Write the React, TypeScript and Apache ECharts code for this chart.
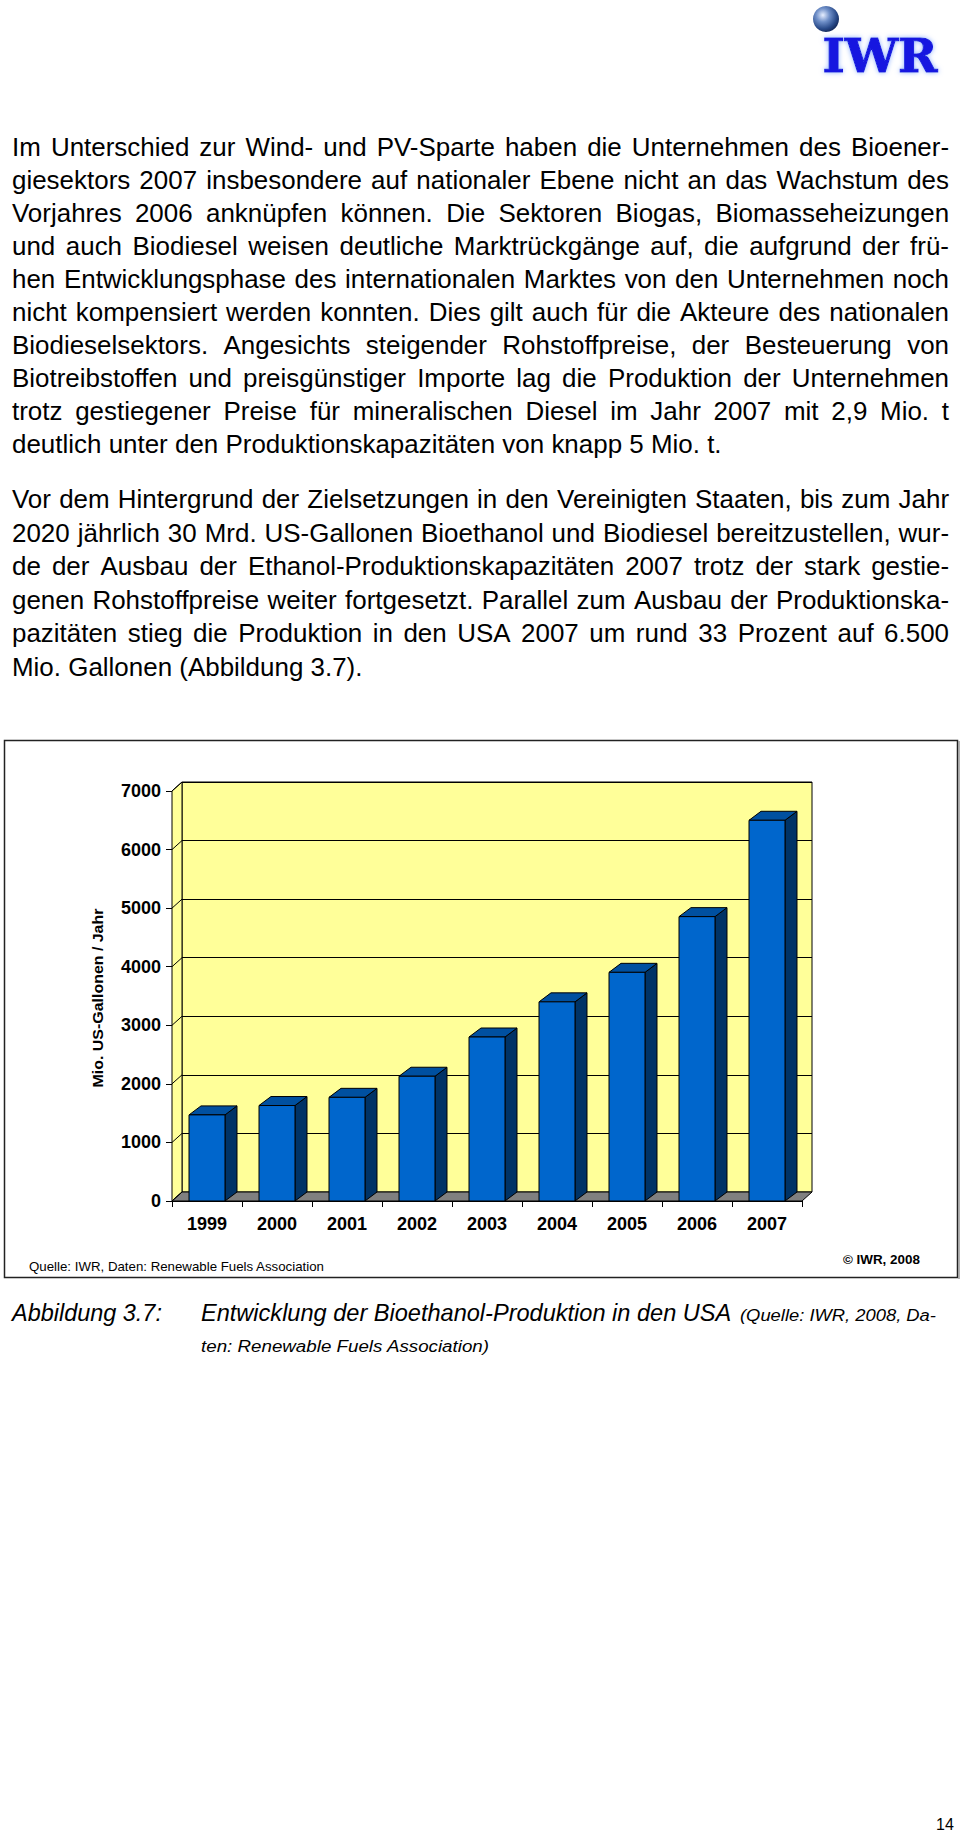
import React, { useEffect, useRef } from "react";
import * as echarts from "echarts";

// ---------- data ----------
const years = ["1999", "2000", "2001", "2002", "2003", "2004", "2005", "2006", "2007"];
const production = [1470, 1630, 1770, 2130, 2800, 3400, 3904, 4855, 6500];
const yTicks = [0, 1000, 2000, 3000, 4000, 5000, 6000, 7000];
const yMax = 7000;
const yInterval = 1000;

const paragraph1 = [
  "Im Unterschied zur Wind- und PV-Sparte haben die Unternehmen des Bioener-",
  "giesektors 2007 insbesondere auf nationaler Ebene nicht an das Wachstum des",
  "Vorjahres 2006 anknüpfen können. Die Sektoren Biogas, Biomasseheizungen",
  "und auch Biodiesel weisen deutliche Marktrückgänge auf, die aufgrund der frü-",
  "hen Entwicklungsphase des internationalen Marktes von den Unternehmen noch",
  "nicht kompensiert werden konnten. Dies gilt auch für die Akteure des nationalen",
  "Biodieselsektors. Angesichts steigender Rohstoffpreise, der Besteuerung von",
  "Biotreibstoffen und preisgünstiger Importe lag die Produktion der Unternehmen",
  "trotz gestiegener Preise für mineralischen Diesel im Jahr 2007 mit 2,9 Mio. t",
  "deutlich unter den Produktionskapazitäten von knapp 5 Mio. t.",
];
const paragraph2 = [
  "Vor dem Hintergrund der Zielsetzungen in den Vereinigten Staaten, bis zum Jahr",
  "2020 jährlich 30 Mrd. US-Gallonen Bioethanol und Biodiesel bereitzustellen, wur-",
  "de der Ausbau der Ethanol-Produktionskapazitäten 2007 trotz der stark gestie-",
  "genen Rohstoffpreise weiter fortgesetzt. Parallel zum Ausbau der Produktionska-",
  "pazitäten stieg die Produktion in den USA 2007 um rund 33 Prozent auf 6.500",
  "Mio. Gallonen (Abbildung 3.7).",
];
const yAxisTitle = "Mio. US-Gallonen / Jahr";
const sourceNote = "Quelle: IWR, Daten: Renewable Fuels Association";
const copyrightNote = "© IWR, 2008";
const captionLabel = "Abbildung 3.7:";
const captionTitle = "Entwicklung der Bioethanol-Produktion in den USA";
const captionSource1 = "(Quelle: IWR, 2008, Da-";
const captionSource2 = "ten: Renewable Fuels Association)";
const pageNumber = "14";

// ---------- styling ----------
const FONT = "'Liberation Sans', Arial, Helvetica, sans-serif";
const WALL = "#FFFF99";
const FLOOR = "#808080";
const FRONT = "#0066CC";
const TOP = "#0050A0";
const SIDE = "#003366";
const DX = 10; // wall depth
const BDX = 12; // bar depth
const DY = 9;

let measureCtx: CanvasRenderingContext2D | null = null;
function measure(text: string, font: string) {
  if (!measureCtx) measureCtx = document.createElement("canvas").getContext("2d");
  if (!measureCtx) return text.length * 10;
  measureCtx.font = font;
  return measureCtx.measureText(text).width;
}

type TOpts = { weight?: string; style?: string; family?: string; align?: string; rotation?: number; fill?: string };

function textEl(text: string, x: number, y: number, size: number, sx: number, opts: TOpts = {}) {
  return {
    type: "text",
    x,
    y,
    rotation: opts.rotation || 0,
    scaleX: sx,
    style: {
      text,
      fill: opts.fill || "#000",
      fontSize: size,
      fontFamily: opts.family || FONT,
      fontWeight: opts.weight || "normal",
      fontStyle: opts.style || "normal",
      align: opts.align || "left",
      verticalAlign: "middle",
    },
  };
}

function fitText(text: string, x: number, y: number, size: number, target: number | null, opts: TOpts = {}) {
  const family = opts.family || FONT;
  const w = measure(text, `${opts.style || "normal"} ${opts.weight || "normal"} ${size}px ${family}`);
  return textEl(text, x, y, size, target ? target / w : 1, opts);
}

const BODY_SIZE = 26;
const BODY_FONT = `normal normal ${BODY_SIZE}px ${FONT}`;

function justifiedLine(els: any[], line: string, x0: number, y: number, width: number, s0: number) {
  const words = line.split(" ");
  const raw = words.map((w) => measure(w, BODY_FONT));
  const rawTotal = raw.reduce((a, b) => a + b, 0);
  const minGap = measure(" ", BODY_FONT) * s0 * 0.8;
  let s = s0;
  if (rawTotal * s + (words.length - 1) * minGap > width) {
    s = (width - (words.length - 1) * minGap) / rawTotal;
  }
  const gap = words.length > 1 ? (width - rawTotal * s) / (words.length - 1) : 0;
  let x = x0;
  words.forEach((w, i) => {
    els.push(textEl(w, x, y, BODY_SIZE, s));
    x += raw[i] * s + gap;
  });
}

function buildGraphic() {
  const els: any[] = [];
  const left = 12;
  const fullW = 937;
  const last1 = paragraph1[paragraph1.length - 1];
  const last2 = paragraph2[paragraph2.length - 1];
  const s0 = (710 / measure(last1, BODY_FONT) + 350 / measure(last2, BODY_FONT)) / 2;

  paragraph1.forEach((line, i) => {
    const y = 147 + 33 * i;
    if (i === paragraph1.length - 1) els.push(textEl(line, left, y, BODY_SIZE, s0));
    else justifiedLine(els, line, left, y, fullW, s0);
  });
  paragraph2.forEach((line, i) => {
    const y = 499 + 33.6 * i;
    if (i === paragraph2.length - 1) els.push(textEl(line, left, y, BODY_SIZE, s0));
    else justifiedLine(els, line, left, y, fullW, s0);
  });

  // logo
  els.push({
    type: "circle",
    shape: { cx: 826, cy: 19, r: 13 },
    style: {
      fill: new echarts.graphic.RadialGradient(0.38, 0.35, 0.75, [
        { offset: 0, color: "#e6eeff" },
        { offset: 0.35, color: "#6f8fc8" },
        { offset: 0.7, color: "#2a4b8a" },
        { offset: 1, color: "#0b1a45" },
      ]),
    },
  });
  const logo: any = fitText("IWR", 880, 56, 46, 115, { weight: "bold", family: "'DejaVu Serif', serif", align: "center", fill: "#1414e0" });
  logo.style.textShadowColor = "#8fb0ff";
  logo.style.textShadowBlur = 5;
  logo.style.stroke = "#1414e0";
  logo.style.lineWidth = 1;
  els.push(logo);

  // chart frame
  els.push({
    type: "rect",
    shape: { x: 4.5, y: 740.5, width: 953, height: 537 },
    style: { fill: "none", stroke: "#222", lineWidth: 1.5 },
    z: -1,
  });
  els.push({
    type: "line",
    shape: { x1: 959, y1: 741, x2: 959, y2: 1279 },
    style: { stroke: "#999", lineWidth: 1.5 },
  });

  els.push(fitText(yAxisTitle, 98, 998, 15, 179, { weight: "bold", align: "center", rotation: Math.PI / 2 }));
  els.push(fitText(sourceNote, 29, 1267, 13, 296));
  els.push(fitText(copyrightNote, 843, 1260, 13, 77, { weight: "bold" }));

  // caption
  els.push(fitText(captionLabel, 12, 1313, 23, 150, { style: "italic" }));
  els.push(fitText(captionTitle, 201, 1313, 23, 531, { style: "italic" }));
  els.push(fitText(captionSource1, 740, 1315, 17, 196, { style: "italic" }));
  els.push(fitText(captionSource2, 201, 1346, 17, 289, { style: "italic" }));

  els.push(fitText(pageNumber, 945, 1824, 16, null, { align: "center" }));
  return els;
}

function buildOption(): any {
  const axisLabelStyle = { color: "#000", fontWeight: "bold", fontSize: 18, fontFamily: FONT };
  return {
    animation: false,
    backgroundColor: "#fff",
    graphic: { elements: buildGraphic() },
    grid: [
      { left: 172, top: 791, width: 630, height: 410, show: false },
      { left: 182, top: 782, width: 630, height: 410, show: true, backgroundColor: WALL, borderColor: "#000", borderWidth: 1 },
    ],
    xAxis: [
      {
        type: "category",
        gridIndex: 0,
        data: years,
        boundaryGap: true,
        axisLine: { show: true, lineStyle: { color: "#000", width: 1 } },
        axisTick: { show: true, length: 6, lineStyle: { color: "#000" } },
        axisLabel: { ...axisLabelStyle, margin: 14 },
        splitLine: { show: false },
      },
      {
        type: "category",
        gridIndex: 1,
        data: years,
        axisLine: { show: false },
        axisTick: { show: false },
        axisLabel: { show: false },
        splitLine: { show: false },
      },
    ],
    yAxis: [
      {
        type: "value",
        gridIndex: 0,
        min: 0,
        max: yMax,
        interval: yInterval,
        axisLine: { show: true, lineStyle: { color: "#000", width: 1 } },
        axisTick: { show: true, length: 6, lineStyle: { color: "#000" } },
        axisLabel: { ...axisLabelStyle, margin: 11, formatter: (v: number) => String(v) },
        splitLine: { show: false },
      },
      {
        type: "value",
        gridIndex: 1,
        min: 0,
        max: yMax,
        interval: yInterval,
        axisLine: { show: false },
        axisTick: { show: false },
        axisLabel: { show: false },
        splitLine: { show: true, lineStyle: { color: "#000", width: 1 } },
      },
    ],
    series: [
      {
        type: "custom",
        name: "walls",
        xAxisIndex: 0,
        yAxisIndex: 0,
        clip: false,
        silent: true,
        data: [[0, 0]],
        encode: { x: 0, y: 1 },
        renderItem: (_params: any, api: any) => {
          const bandW = api.size([1, 0])[0];
          const first = api.coord([0, 0]);
          const last = api.coord([years.length - 1, 0]);
          const xL = first[0] - bandW / 2;
          const xR = last[0] + bandW / 2;
          const y0 = first[1];
          const yTop = api.coord([0, yMax])[1];
          const children: any[] = [
            {
              type: "polygon",
              shape: { points: [[xL, yTop], [xL + DX, yTop - DY], [xL + DX, y0 - DY], [xL, y0]] },
              style: { fill: WALL, stroke: "#000", lineWidth: 1 },
            },
            {
              type: "polygon",
              shape: { points: [[xL, y0], [xL + DX, y0 - DY], [xR + DX, y0 - DY], [xR, y0]] },
              style: { fill: FLOOR, stroke: "#000", lineWidth: 1 },
            },
          ];
          yTicks.forEach((v) => {
            const p = api.coord([0, v]);
            children.push({
              type: "line",
              shape: { x1: xL, y1: p[1], x2: xL + DX, y2: p[1] - DY },
              style: { stroke: "#000", lineWidth: 1 },
            });
          });
          return { type: "group", children };
        },
      },
      {
        type: "custom",
        name: "Bioethanol-Produktion",
        xAxisIndex: 0,
        yAxisIndex: 0,
        clip: false,
        data: years.map((_y, i) => [i, production[i]]),
        encode: { x: 0, y: 1 },
        renderItem: (_params: any, api: any) => {
          const idx = api.value(0);
          const val = api.value(1);
          const c = api.coord([idx, val]);
          const b = api.coord([idx, 0]);
          const bw = api.size([1, 0])[0] * 0.514;
          const xL = c[0] - bw / 2;
          const xR = c[0] + bw / 2;
          const yT = c[1];
          const yB = b[1];
          const edge = { stroke: "#000", lineWidth: 1 };
          return {
            type: "group",
            children: [
              {
                type: "polygon",
                shape: { points: [[xR, yT], [xR + BDX, yT - DY], [xR + BDX, yB - DY], [xR, yB]] },
                style: { fill: SIDE, ...edge },
              },
              {
                type: "polygon",
                shape: { points: [[xL, yT], [xL + BDX, yT - DY], [xR + BDX, yT - DY], [xR, yT]] },
                style: { fill: TOP, ...edge },
              },
              {
                type: "rect",
                shape: { x: xL, y: yT, width: bw, height: yB - yT },
                style: { fill: FRONT, ...edge },
              },
            ],
          };
        },
      },
    ],
  };
}

export default function App() {
  const ref = useRef<HTMLDivElement>(null);
  useEffect(() => {
    if (!ref.current) return;
    const chart = echarts.init(ref.current, null, { renderer: "svg" });
    chart.setOption(buildOption());
    return () => chart.dispose();
  }, []);
  return (
    <div
      ref={ref}
      style={{ position: "absolute", left: 0, top: 0, width: 960, height: 1834, background: "#fff" }}
    />
  );
}
